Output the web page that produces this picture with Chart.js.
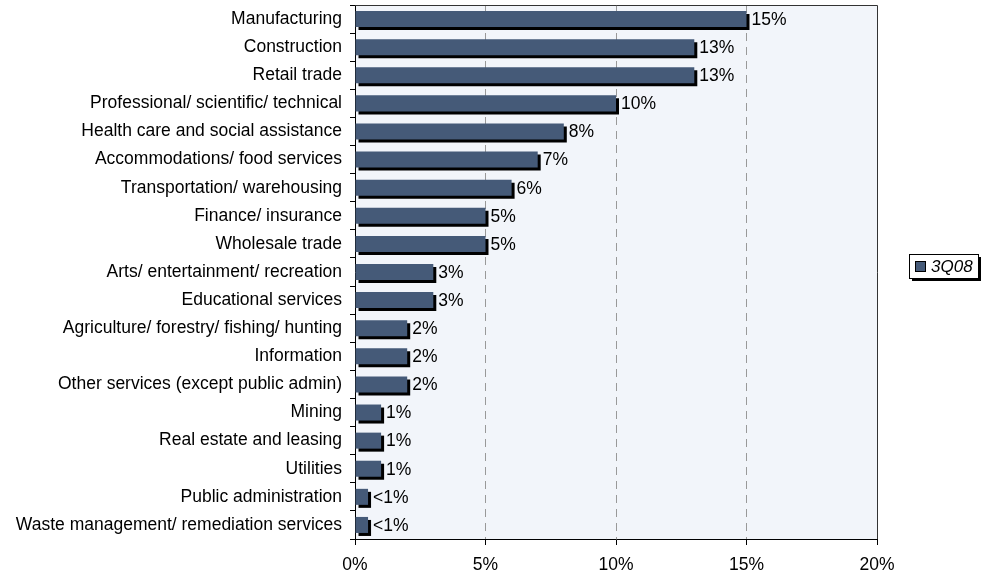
<!DOCTYPE html>
<html>
<head>
<meta charset="utf-8">
<script src="https://cdn.jsdelivr.net/npm/chart.js@4.4.0/dist/chart.umd.min.js"></script>
<style>
    html, body { margin: 0; padding: 0; background: #fff; }
</style>
</head>
<body>
<canvas id="chart-industry" width="982" height="578"></canvas>
<script>
var industries = [
    "Manufacturing",
    "Construction",
    "Retail trade",
    "Professional/ scientific/ technical",
    "Health care and social assistance",
    "Accommodations/ food services",
    "Transportation/ warehousing",
    "Finance/ insurance",
    "Wholesale trade",
    "Arts/ entertainment/ recreation",
    "Educational services",
    "Agriculture/ forestry/ fishing/ hunting",
    "Information",
    "Other services (except public admin)",
    "Mining",
    "Real estate and leasing",
    "Utilities",
    "Public administration",
    "Waste management/ remediation services"
];
var share3Q08 = [15, 13, 13, 10, 8, 7, 6, 5, 5, 3, 3, 2, 2, 2, 1, 1, 1, 0.5, 0.5];
var seriesName = "3Q08";
var xMin = 0, xMax = 20, xStep = 5;

var FONT = '"Liberation Sans", Arial, sans-serif';
var FONT_SIZE = 17.5;
var barColor = '#455a78';

function pctText(v) {
    return v < 1 ? '<1%' : v + '%';
}

// light plot background + dark frame on top/right
var plotFrame = {
    id: 'plotFrame',
    beforeDraw: function(chart) {
        var a = chart.chartArea, ctx = chart.ctx;
        ctx.save();
        ctx.fillStyle = '#f2f5fa';
        ctx.fillRect(a.left, a.top, a.right - a.left, a.bottom - a.top);
        ctx.restore();
    },
    afterDraw: function(chart) {
        var a = chart.chartArea, ctx = chart.ctx;
        ctx.save();
        ctx.strokeStyle = '#333';
        ctx.lineWidth = 1;
        ctx.beginPath();
        ctx.moveTo(a.left, a.top + 0.5);
        ctx.lineTo(a.right + 0.5, a.top + 0.5);
        ctx.lineTo(a.right + 0.5, a.bottom);
        ctx.stroke();
        ctx.restore();
    }
};

// hard black drop shadow under the bars, then the value labels
var barShadow = {
    id: 'barShadow',
    beforeDatasetsDraw: function(chart) {
        var ctx = chart.ctx;
        ctx.save();
        ctx.shadowColor = '#000';
        ctx.shadowOffsetX = 3;
        ctx.shadowOffsetY = 3;
        ctx.shadowBlur = 0;
    },
    afterDatasetsDraw: function(chart) {
        var ctx = chart.ctx;
        ctx.restore();
        var meta = chart.getDatasetMeta(0);
        ctx.save();
        ctx.font = FONT_SIZE + 'px ' + FONT;
        ctx.fillStyle = '#000';
        ctx.textAlign = 'left';
        ctx.textBaseline = 'middle';
        meta.data.forEach(function(bar, i) {
            ctx.fillText(pctText(share3Q08[i]), bar.x + 5, bar.y + 1);
        });
        ctx.restore();
    }
};

// boxed legend on the right side
var sideLegend = {
    id: 'sideLegend',
    afterDraw: function(chart) {
        var ctx = chart.ctx;
        var x = 909, y = 254, w = 69, h = 24;
        ctx.save();
        ctx.fillStyle = '#000';
        ctx.fillRect(x + 3, y + 3, w, h);
        ctx.fillStyle = '#fff';
        ctx.fillRect(x, y, w, h);
        ctx.strokeStyle = '#000';
        ctx.lineWidth = 1;
        ctx.strokeRect(x + 0.5, y + 0.5, w, h);
        ctx.fillStyle = barColor;
        ctx.fillRect(x + 6, y + 7, 10, 10);
        ctx.strokeRect(x + 6.5, y + 7.5, 10, 10);
        ctx.fillStyle = '#000';
        ctx.font = 'italic 17px ' + FONT;
        ctx.textBaseline = 'middle';
        ctx.fillText(seriesName, x + 22, y + h / 2 + 1);
        ctx.restore();
    }
};

var ctx = document.getElementById('chart-industry');
var industryChart = new Chart(ctx, {
    type: 'bar',
    data: {
        labels: industries,
        datasets: [{
            label: seriesName,
            data: share3Q08,
            backgroundColor: barColor,
            borderWidth: 0,
            barPercentage: 0.57,
            categoryPercentage: 1.0
        }]
    },
    options: {
        indexAxis: 'y',
        responsive: false,
        animation: false,
        layout: { padding: { top: 5, right: 105, left: 0, bottom: 0 } },
        plugins: {
            legend: { display: false },
            tooltip: { enabled: false }
        },
        scales: {
            x: {
                type: 'linear',
                min: xMin,
                max: xMax,
                ticks: {
                    stepSize: xStep,
                    color: '#000',
                    font: { family: FONT, size: FONT_SIZE },
                    padding: 10,
                    callback: function(v) { return v + '%'; }
                },
                grid: {
                    color: function(c) {
                        var v = c.tick ? c.tick.value : 0;
                        return (v === xMin || v === xMax) ? 'rgba(0,0,0,0)' : '#999';
                    },
                    tickColor: '#000',
                    tickLength: 6,
                    tickBorderDash: []
                },
                border: { color: '#000', width: 1, dash: [8, 6] },
                afterFit: function(scale) { scale.height = 39; }
            },
            y: {
                type: 'category',
                ticks: {
                    color: '#000',
                    font: { family: FONT, size: FONT_SIZE },
                    padding: 8
                },
                grid: {
                    drawOnChartArea: false,
                    tickColor: '#000',
                    tickLength: 5,
                    offset: true
                },
                border: { color: '#000', width: 1 },
                afterFit: function(scale) {
                    scale.width = 355;
                    scale.paddingTop = 0;
                    scale.paddingBottom = 0;
                }
            }
        }
    },
    plugins: [plotFrame, barShadow, sideLegend]
});
</script>
</body>
</html>
